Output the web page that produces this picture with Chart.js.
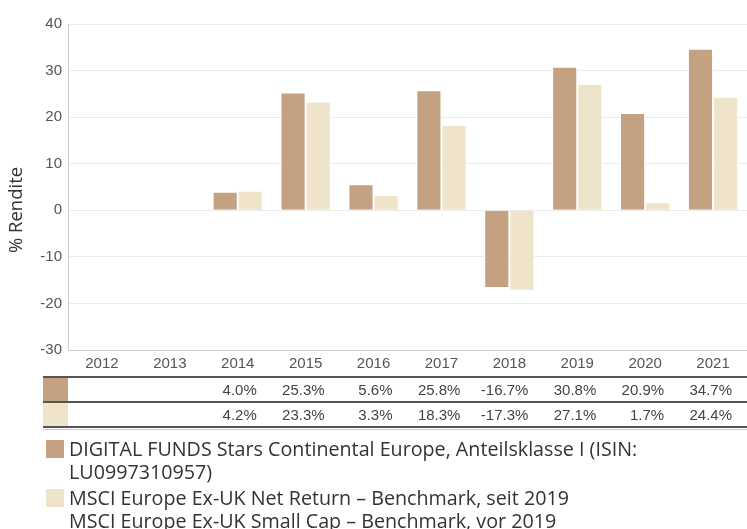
<!DOCTYPE html>
<html>
<head>
<meta charset="utf-8">
<script src="https://cdn.jsdelivr.net/npm/chart.js@4"></script>
<style>
html,body{margin:0;padding:0;background:#fff;}
#wrap{width:747px;height:529px;position:relative;overflow:hidden;}
</style>
</head>
<body>
<div id="wrap"><canvas id="c" width="747" height="529"></canvas></div>
<script>
const years = ['2012','2013','2014','2015','2016','2017','2018','2019','2020','2021'];
const fundValues = [null, null, 4.0, 25.3, 5.6, 25.8, -16.7, 30.8, 20.9, 34.7];
const benchValues = [null, null, 4.2, 23.3, 3.3, 18.3, -17.3, 27.1, 1.7, 24.4];
const fundLabel = ['DIGITAL FUNDS Stars Continental Europe, Anteilsklasse I (ISIN:', 'LU0997310957)'];
const benchLabel = ['MSCI Europe Ex-UK Net Return – Benchmark, seit 2019', 'MSCI Europe Ex-UK Small Cap – Benchmark, vor 2019'];
const yTitle = '% Rendite';
const fundColor = '#c4a181';
const benchColor = '#efe3c9';

const extras = {
  id: 'extras',
  afterDraw(chart) {
    const ctx = chart.ctx;
    const x = chart.scales.x;
    ctx.save();
    // y title
    ctx.fillStyle = '#333';
    ctx.font = '18.5px "Open Sans", sans-serif';
    ctx.textAlign = 'center';
    ctx.textBaseline = 'middle';
    ctx.translate(17, 210);
    ctx.rotate(-Math.PI / 2);
    ctx.fillText(yTitle, 0, 0);
    ctx.restore();

    // table
    ctx.save();
    const tLeft = 43, tRight = 747;
    const rows = [[fundValues, fundColor], [benchValues, benchColor]];
    const top = 377, rh = 25;
    rows.forEach((r, i) => {
      const y0 = top + i * rh;
      ctx.fillStyle = r[1];
      ctx.fillRect(tLeft, y0, 25, rh);
      ctx.fillStyle = '#444';
      ctx.font = '15px "Liberation Sans", Arial, sans-serif';
      ctx.textAlign = 'right';
      ctx.textBaseline = 'middle';
      r[0].forEach((v, j) => {
        if (v === null) return;
        const cx = x.getPixelForValue(j);
        ctx.fillText(v.toFixed(1) + '%', cx + 19, y0 + rh / 2 + 1);
      });
    });
    ctx.strokeStyle = '#555';
    ctx.lineWidth = 2;
    [top, top + rh, top + 2 * rh].forEach(y => {
      ctx.beginPath();
      ctx.moveTo(tLeft, y);
      ctx.lineTo(tRight, y);
      ctx.stroke();
    });
    ctx.strokeStyle = '#ccc';
    ctx.lineWidth = 1;
    ctx.beginPath();
    ctx.moveTo(tLeft, top + 2 * rh + 2.5);
    ctx.lineTo(tRight, top + 2 * rh + 2.5);
    ctx.stroke();

    // legend
    ctx.font = '19.7px "Open Sans", sans-serif';
    ctx.textAlign = 'left';
    ctx.textBaseline = 'middle';
    const items = [[fundLabel, fundColor, 440], [benchLabel, benchColor, 489]];
    items.forEach(it => {
      ctx.fillStyle = it[1];
      ctx.fillRect(46, it[2], 18, 18);
      ctx.fillStyle = '#333';
      it[0].forEach((line, k) => {
        ctx.fillText(line, 69, it[2] + 10 + k * 23);
      });
    });
    ctx.restore();
  }
};

new Chart(document.getElementById('c'), {
  type: 'bar',
  data: {
    labels: years,
    datasets: [
      { label: fundLabel.join(' '), data: fundValues, backgroundColor: fundColor, borderColor: '#fff', borderWidth: 1 },
      { label: benchLabel.join(' '), data: benchValues, backgroundColor: benchColor, borderColor: '#fff', borderWidth: 1 }
    ]
  },
  options: {
    responsive: false,
    animation: false,
    layout: { padding: { left: 0, right: -3, top: 24, bottom: 157 } },
    plugins: { legend: { display: false }, tooltip: { enabled: false } },
    datasets: { bar: { categoryPercentage: 0.74, barPercentage: 1.0 } },
    scales: {
      x: {
        grid: { display: false, drawTicks: false },
        border: { display: true, color: '#ccc' },
        ticks: { color: '#555', font: { family: '"Liberation Sans", Arial, sans-serif', size: 15 }, padding: 5 },
        afterFit(s) { s.height = 22; }
      },
      y: {
        min: -30, max: 40,
        grid: { color: '#ebebeb', drawTicks: false },
        border: { display: true, color: '#ccc' },
        ticks: { stepSize: 10, color: '#555', font: { family: '"Liberation Sans", Arial, sans-serif', size: 15 }, padding: 6 },
        afterFit(s) { s.width = 68; }
      }
    }
  },
  plugins: [extras]
});
</script>
</body>
</html>
